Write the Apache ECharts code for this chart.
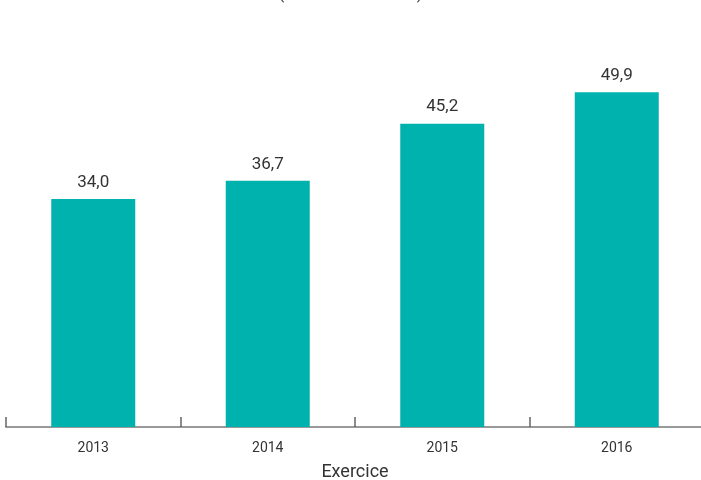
<!DOCTYPE html>
<html>
<head>
<meta charset="utf-8">
<script src="https://cdn.jsdelivr.net/npm/echarts@6/dist/echarts.min.js"></script>
<style>
  html, body { margin: 0; padding: 0; background: #fff; }
  #chart { width: 701px; height: 480px; }
</style>
</head>
<body>
<div id="chart"></div>
<script>
const years = ['2013', '2014', '2015', '2016']
const values = [34.0, 36.7, 45.2, 49.9]
const titleText = '(en millions d\'euros)'
const axisName = 'Exercice'

const chart = echarts.init(document.getElementById('chart'))
chart.setOption({
  animation: false,
  title: {
    text: titleText,
    left: 'center',
    top: -18,
    textStyle: { fontFamily: 'Roboto', fontSize: 16, fontWeight: 'normal', color: '#333' }
  },
  grid: { left: 6, right: -3, top: 58, bottom: 53, containLabel: false, outerBoundsMode: 'none' },
  xAxis: {
    type: 'category',
    data: years,
    axisLine: { lineStyle: { color: '#999', width: 2 } },
    axisTick: { show: true, inside: true, length: 10, lineStyle: { color: '#666', width: 1.5 } },
    axisLabel: { fontFamily: 'Roboto', fontSize: 14, color: '#333', margin: 14 },
    name: axisName,
    nameLocation: 'middle',
    nameGap: 36,
    nameTextStyle: { fontFamily: 'Roboto', fontSize: 18, color: '#333' }
  },
  yAxis: { type: 'value', min: 0, max: 55, show: false },
  series: [{
    type: 'bar',
    data: values,
    barWidth: 84,
    itemStyle: { color: '#00B2AE' },
    label: {
      show: true,
      position: 'top',
      distance: 8,
      fontFamily: 'Roboto',
      fontSize: 17,
      color: '#333',
      formatter: p => p.value.toFixed(1).replace('.', ',')
    }
  }]
})
</script>
</body>
</html>
